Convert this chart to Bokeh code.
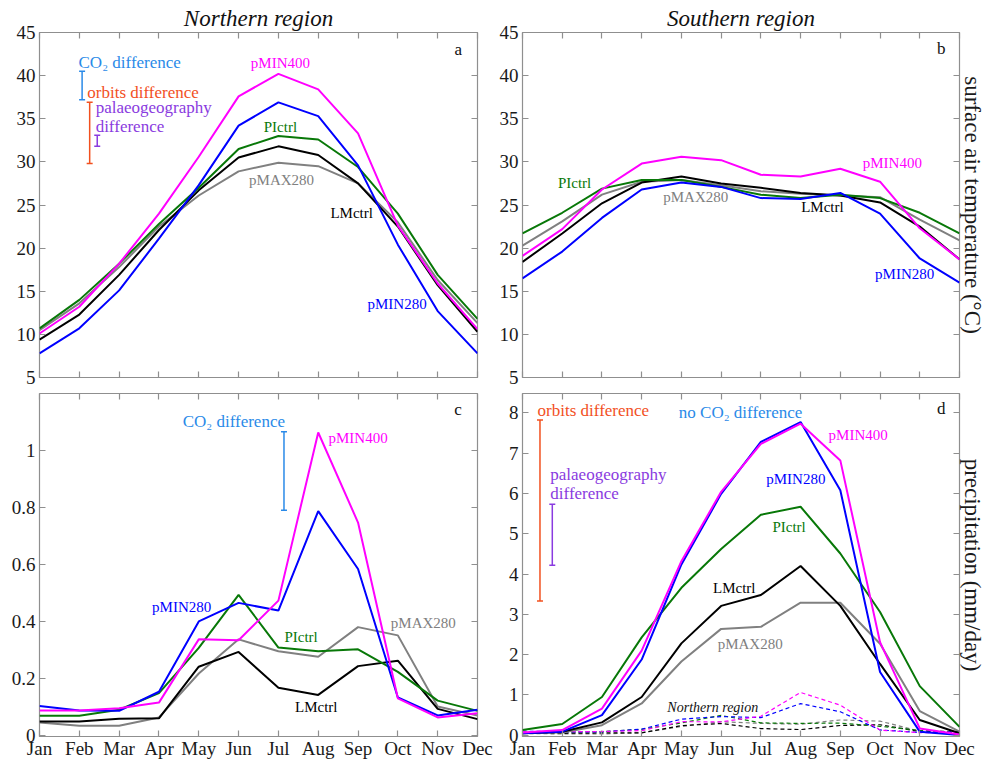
from bokeh.plotting import figure
from bokeh.layouts import column, row
from bokeh.models import LinearAxis, FixedTicker, Range1d, Label
from bokeh.embed import file_html
from bokeh.resources import INLINE

months = ["Jan", "Feb", "Mar", "Apr", "May", "Jun", "Jul", "Aug", "Sep", "Oct", "Nov", "Dec"]
xs = list(range(12))

# (a) Northern region, surface air temperature (degC)
north_temp_pMIN400 = [10.1, 13.2, 18.2, 24.0, 30.6, 37.6, 40.2, 38.4, 33.3, 22.6, 15.9, 10.6]
north_temp_pMIN280 = [7.8, 10.7, 15.1, 21.1, 27.3, 34.2, 36.9, 35.3, 29.6, 20.4, 12.7, 7.8]
north_temp_PIctrl = [10.7, 14.0, 18.2, 22.8, 27.0, 31.5, 33.0, 32.6, 29.4, 24.0, 16.9, 11.8]
north_temp_LMctrl = [9.4, 12.3, 16.9, 22.1, 26.7, 30.5, 31.8, 30.8, 27.5, 22.5, 15.7, 10.3]
north_temp_pMAX280 = [10.5, 13.6, 17.8, 22.5, 26.1, 28.9, 29.9, 29.5, 27.5, 23.0, 16.3, 11.3]

# (b) Southern region, surface air temperature (degC)
south_temp_pMIN400 = [19.1, 22.2, 26.8, 29.8, 30.6, 30.2, 28.5, 28.3, 29.2, 27.7, 22.3, 18.7]
south_temp_pMIN280 = [16.5, 19.6, 23.5, 26.8, 27.6, 27.1, 25.8, 25.7, 26.4, 24.0, 18.8, 16.0]
south_temp_PIctrl = [21.7, 24.1, 26.9, 27.9, 27.9, 27.1, 26.2, 25.8, 26.2, 25.8, 24.1, 21.7]
south_temp_LMctrl = [18.4, 21.7, 25.2, 27.6, 28.3, 27.5, 27.0, 26.4, 26.1, 25.3, 22.5, 18.7]
south_temp_pMAX280 = [20.3, 23.1, 26.2, 27.7, 27.9, 27.3, 26.6, 26.3, 26.1, 25.9, 23.3, 20.9]

# (c) Northern region, precipitation (mm/day)
north_prec_pMIN400 = [0.087, 0.087, 0.095, 0.115, 0.337, 0.334, 0.473, 1.063, 0.747, 0.130, 0.063, 0.078]
north_prec_pMIN280 = [0.103, 0.087, 0.086, 0.153, 0.400, 0.465, 0.438, 0.787, 0.584, 0.133, 0.070, 0.090]
north_prec_PIctrl = [0.069, 0.069, 0.090, 0.148, 0.307, 0.493, 0.308, 0.295, 0.302, 0.223, 0.122, 0.086]
north_prec_LMctrl = [0.049, 0.049, 0.058, 0.060, 0.241, 0.293, 0.167, 0.142, 0.243, 0.262, 0.093, 0.057]
north_prec_pMAX280 = [0.045, 0.034, 0.034, 0.063, 0.217, 0.337, 0.295, 0.276, 0.380, 0.351, 0.101, 0.070]

# (d) Southern region, precipitation (mm/day)
south_prec_pMIN400 = [0.07, 0.13, 0.66, 2.10, 4.32, 6.04, 7.23, 7.73, 6.82, 2.31, 0.17, 0.02]
south_prec_pMIN280 = [0.05, 0.09, 0.50, 1.88, 4.24, 5.99, 7.28, 7.77, 6.08, 1.57, 0.09, 0.01]
south_prec_PIctrl = [0.13, 0.28, 0.95, 2.43, 3.66, 4.62, 5.47, 5.67, 4.51, 3.06, 1.22, 0.21]
south_prec_LMctrl = [0.05, 0.09, 0.32, 0.95, 2.28, 3.21, 3.48, 4.20, 3.21, 1.77, 0.38, 0.05]
south_prec_pMAX280 = [0.05, 0.07, 0.25, 0.79, 1.83, 2.64, 2.69, 3.29, 3.29, 2.27, 0.60, 0.09]

temp_ticks = [5, 10, 15, 20, 25, 30, 35, 40, 45]
north_prec_ticks = [0, 0.2, 0.4, 0.6, 0.8, 1.0]
north_prec_tick_labels = ["0", "0.2", "0.4", "0.6", "0.8", "1"]
south_prec_ticks = [0, 1, 2, 3, 4, 5, 6, 7, 8]

SERIF = "Liberation Serif"
C_MIN400 = "#ff00ff"
C_MIN280 = "#0000ff"
C_PI = "#087808"
C_LM = "#000000"
C_MAX = "#808080"
C_CO2 = "#2a8ae8"
C_ORB = "#f2501e"
C_PAL = "#8a3be0"
FRAME = "#8f8f8f"
TICKTXT = "#1a1a1a"
ANN = "17px"

FW, FH = 438, 345


def make_fig(lb, rb, tb, bb, ymin, ymax, yticks, ylabels=None, title=None,
             show_months=False, right_label=None):
    p = figure(width=lb + FW + rb, height=tb + FH + bb,
               x_range=Range1d(0, 11), y_range=Range1d(ymin, ymax),
               output_backend="svg", toolbar_location=None,
               min_border_left=lb, min_border_right=rb,
               min_border_top=tb, min_border_bottom=bb)
    p.grid.visible = False
    p.outline_line_color = FRAME
    p.outline_line_width = 1.2
    p.background_fill_color = "white"
    p.border_fill_color = "white"
    if title:
        p.title.text = title
        p.title.align = "center"
        p.title.text_font = SERIF
        p.title.text_font_style = "italic"
        p.title.text_font_size = "23px"
        p.title.text_color = "#111111"
        p.title.standoff = 3
        p.title.offset = 0

    def style(ax):
        ax.axis_line_color = None
        ax.major_tick_line_color = FRAME
        ax.major_tick_line_width = 1.2
        ax.major_tick_in = 6
        ax.major_tick_out = 0
        ax.minor_tick_line_color = None
        ax.major_label_text_font = SERIF
        ax.major_label_text_color = TICKTXT

    def hide_labels(ax):
        ax.major_label_text_color = None
        ax.major_label_text_font_size = "1px"
        ax.major_label_standoff = 0

    xa = p.xaxis[0]
    style(xa)
    xa.ticker = FixedTicker(ticks=xs)
    if show_months:
        xa.major_label_overrides = {i: m for i, m in zip(xs, months)}
        xa.major_label_text_font_size = "19px"
        xa.major_label_standoff = 1
    else:
        hide_labels(xa)

    ya = p.yaxis[0]
    style(ya)
    ya.ticker = FixedTicker(ticks=yticks)
    ya.major_label_text_font_size = "19px"
    ya.major_label_standoff = 4
    if ylabels is not None:
        ya.major_label_overrides = {t: s for t, s in zip(yticks, ylabels)}

    top = LinearAxis(ticker=FixedTicker(ticks=xs))
    style(top)
    hide_labels(top)
    p.add_layout(top, "above")

    right = LinearAxis(ticker=FixedTicker(ticks=yticks))
    style(right)
    hide_labels(right)
    if right_label:
        right.axis_label = right_label
        right.axis_label_text_font = SERIF
        right.axis_label_text_font_style = "normal"
        right.axis_label_text_font_size = "23px"
        right.axis_label_text_color = TICKTXT
        right.axis_label_standoff = 0
    p.add_layout(right, "right")
    return p


def draw_series(p, series, width=2.0, dash="solid"):
    for ys, c in series:
        p.line(xs, ys, line_color=c, line_width=width, line_dash=dash)


def lab(p, x, y, text, color, size="15px", align="center", style="normal"):
    p.add_layout(Label(x=x, y=y, text=text, text_color=color, text_font=SERIF,
                       text_font_size=size, text_align=align, text_baseline="middle",
                       text_font_style=style))


def bar(p, x, y0, y1, color):
    p.segment(x0=[x], y0=[y0], x1=[x], y1=[y1], line_color=color, line_width=1.5)
    p.scatter(x=[x, x], y=[y0, y1], marker="dash", size=6, line_color=color, line_width=1.5)


# ---------- (a) ----------
fa = make_fig(39, 16, 32, 10, 5, 45, temp_ticks, title="Northern region")
draw_series(fa, [(north_temp_pMAX280, C_MAX), (north_temp_LMctrl, C_LM), (north_temp_PIctrl, C_PI),
                 (north_temp_pMIN280, C_MIN280), (north_temp_pMIN400, C_MIN400)])
lab(fa, 6.05, 41.45, "pMIN400", C_MIN400)
lab(fa, 6.05, 34.1, "PIctrl", C_PI)
lab(fa, 6.08, 27.85, "pMAX280", C_MAX)
lab(fa, 7.84, 24.05, "LMctrl", C_LM)
lab(fa, 8.98, 13.5, "pMIN280", C_MIN280)
lab(fa, 10.52, 43.0, "a", "#111111", size="17px")
lab(fa, 0.98, 41.5, "CO₂ difference", C_CO2, size=ANN, align="left")
lab(fa, 1.2, 38.1, "orbits difference", C_ORB, size=ANN, align="left")
lab(fa, 1.41, 36.3, "palaeogeography", C_PAL, size=ANN, align="left")
lab(fa, 1.41, 34.1, "difference", C_PAL, size=ANN, align="left")
bar(fa, 1.07, 37.2, 40.5, C_CO2)
bar(fa, 1.26, 29.8, 36.9, C_ORB)
bar(fa, 1.45, 31.8, 33.1, C_PAL)

# ---------- (b) ----------
fb = make_fig(29, 27, 32, 10, 5, 45, temp_ticks, title="Southern region",
              right_label="surface air temperature (°C)")
draw_series(fb, [(south_temp_pMAX280, C_MAX), (south_temp_LMctrl, C_LM), (south_temp_PIctrl, C_PI),
                 (south_temp_pMIN280, C_MIN280), (south_temp_pMIN400, C_MIN400)])
lab(fb, 1.31, 27.6, "PIctrl", C_PI)
lab(fb, 4.36, 25.95, "pMAX280", C_MAX)
lab(fb, 7.55, 24.8, "LMctrl", C_LM)
lab(fb, 9.31, 29.9, "pMIN400", C_MIN400)
lab(fb, 9.62, 16.95, "pMIN280", C_MIN280)
lab(fb, 10.54, 43.2, "b", "#111111", size="17px")

# ---------- (c) ----------
fc = make_fig(39, 16, 6, 23, -0.004, 1.2, north_prec_ticks, ylabels=north_prec_tick_labels,
              show_months=True)
draw_series(fc, [(north_prec_pMAX280, C_MAX), (north_prec_LMctrl, C_LM), (north_prec_PIctrl, C_PI),
                 (north_prec_pMIN280, C_MIN280), (north_prec_pMIN400, C_MIN400)])
lab(fc, 8.0, 1.043, "pMIN400", C_MIN400)
lab(fc, 3.57, 0.452, "pMIN280", C_MIN280)
lab(fc, 6.57, 0.347, "PIctrl", C_PI)
lab(fc, 9.64, 0.394, "pMAX280", C_MAX)
lab(fc, 6.95, 0.101, "LMctrl", C_LM)
lab(fc, 10.51, 1.144, "c", "#111111", size="17px")
lab(fc, 4.88, 1.10, "CO₂ difference", C_CO2, size=ANN)
bar(fc, 6.14, 0.79, 1.066, C_CO2)

# ---------- (d) ----------
fd = make_fig(29, 27, 6, 23, -0.03, 8.48, south_prec_ticks, show_months=True,
              right_label="precipitation (mm/day)")
draw_series(fd, [(north_prec_pMAX280, C_MAX), (north_prec_LMctrl, C_LM), (north_prec_PIctrl, C_PI),
                 (north_prec_pMIN280, C_MIN280), (north_prec_pMIN400, C_MIN400)],
            width=1.2, dash="4 3")
draw_series(fd, [(south_prec_pMAX280, C_MAX), (south_prec_LMctrl, C_LM), (south_prec_PIctrl, C_PI),
                 (south_prec_pMIN280, C_MIN280), (south_prec_pMIN400, C_MIN400)])
lab(fd, 8.45, 7.46, "pMIN400", C_MIN400)
lab(fd, 6.88, 6.36, "pMIN280", C_MIN280)
lab(fd, 6.71, 5.17, "PIctrl", C_PI)
lab(fd, 5.33, 3.66, "LMctrl", C_LM)
lab(fd, 5.73, 2.27, "pMAX280", C_MAX)
lab(fd, 4.79, 0.68, "Northern region", "#111111", size="14px", style="italic")
lab(fd, 10.54, 8.1, "d", "#111111", size="17px")
lab(fd, 0.38, 8.07, "orbits difference", C_ORB, size=ANN, align="left")
lab(fd, 5.49, 8.0, "no CO₂ difference", C_CO2, size=ANN)
lab(fd, 0.70, 6.48, "palaeogeography", C_PAL, size=ANN, align="left")
lab(fd, 0.70, 6.0, "difference", C_PAL, size=ANN, align="left")
bar(fd, 0.44, 3.33, 7.82, C_ORB)
bar(fd, 0.75, 4.22, 5.73, C_PAL)

layout = column(row(fa, fb), row(fc, fd))
open("out.html", "w").write(file_html(layout, INLINE))
